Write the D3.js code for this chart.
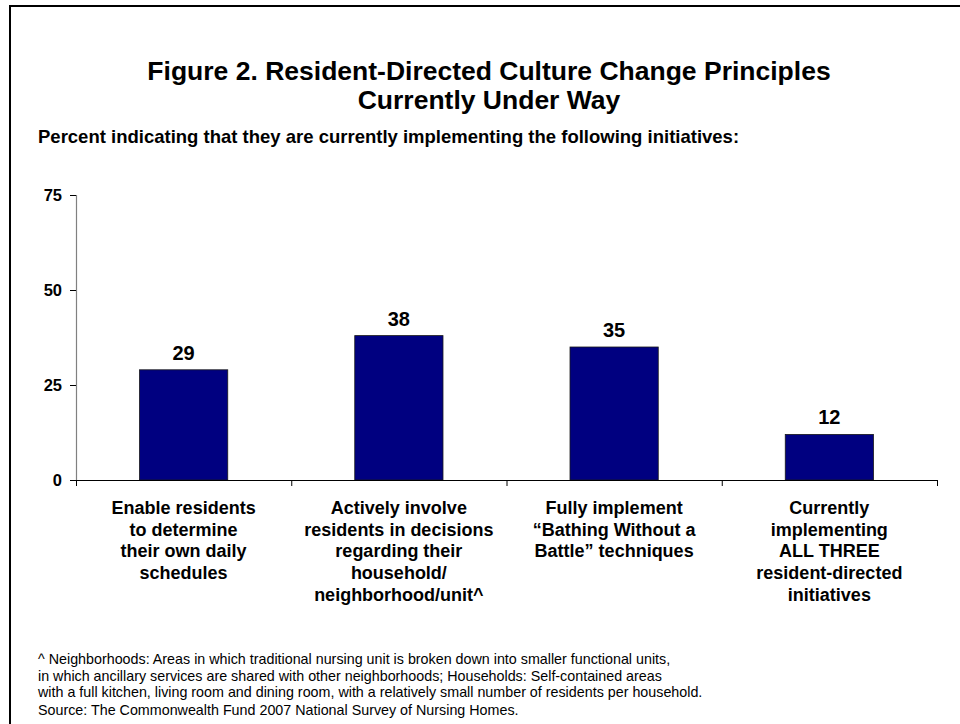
<!DOCTYPE html>
<html>
<head>
<meta charset="utf-8">
<script src="https://cdn.jsdelivr.net/npm/d3@7"></script>
<style>
  html, body { margin: 0; padding: 0; background: #fff; }
  svg { display: block; font-family: Arial, "Liberation Sans", Helvetica, sans-serif; }
</style>
</head>
<body>
<svg id="chart" width="960" height="724"></svg>
<script>
// Survey results: share of nursing homes implementing each initiative
const categories = [
  ["Enable residents", "to determine", "their own daily", "schedules"],
  ["Actively involve", "residents in decisions", "regarding their", "household/", "neighborhood/unit^"],
  ["Fully implement", "\u201cBathing Without a", "Battle\u201d techniques"],
  ["Currently", "implementing", "ALL THREE", "resident-directed", "initiatives"]
];
const values = [29, 38, 35, 12];
const yTicks = [0, 25, 50, 75];
const titleLines = ["Figure 2. Resident-Directed Culture Change Principles", "Currently Under Way"];
const subtitle = "Percent indicating that they are currently implementing the following initiatives:";
const footnotes = [
  "^ Neighborhoods: Areas in which traditional nursing unit is broken down into smaller functional units,",
  "in which ancillary services are shared with other neighborhoods; Households: Self-contained areas",
  "with a full kitchen, living room and dining room, with a relatively small number of residents per household."
];
const source = "Source: The Commonwealth Fund 2007 National Survey of Nursing Homes.";

const svg = d3.select("#chart");

// Frame around the figure
svg.append("path")
  .attr("d", "M10,724 V6 H960")
  .attr("fill", "none")
  .attr("stroke", "#000")
  .attr("stroke-width", 2);

// Title
svg.append("g").selectAll("text").data(titleLines).join("text")
  .attr("x", 489)
  .attr("y", (d, i) => 80 + i * 29)
  .attr("text-anchor", "middle")
  .attr("font-size", 26.5)
  .attr("font-weight", "bold")
  .text(d => d);

svg.append("text")
  .attr("x", 38).attr("y", 142.5)
  .attr("font-size", 18.5).attr("font-weight", "bold")
  .text(subtitle);

// Plot geometry
const x0 = 76, x1 = 937, yBase = 480, yTop = 195;
const idx = d3.range(values.length);
const x = d3.scaleBand().domain(idx).range([x0, x1]).paddingInner(0.59).paddingOuter(0.295);
const y = d3.scaleLinear().domain([0, 75]).range([yBase, yTop]);

// Bars
svg.append("g").selectAll("rect").data(values).join("rect")
  .attr("x", (d, i) => x(i))
  .attr("y", d => y(d))
  .attr("width", x.bandwidth())
  .attr("height", d => y(0) - y(d))
  .attr("fill", "#000080")
  .attr("stroke", "#1a1a1a")
  .attr("stroke-width", 0.8);

// Value labels
svg.append("g").selectAll("text").data(values).join("text")
  .attr("x", (d, i) => x(i) + x.bandwidth() / 2)
  .attr("y", d => y(d) - 10)
  .attr("text-anchor", "middle")
  .attr("font-size", 20)
  .attr("font-weight", "bold")
  .text(d => d);

// Y axis
const yAxis = d3.axisLeft(y).tickValues(yTicks).tickSize(6).tickPadding(8);
const gy = svg.append("g").attr("transform", `translate(${x0},0)`).call(yAxis);
gy.select(".domain").attr("stroke", "#808080").attr("stroke-width", 1.2);
gy.selectAll(".tick line").attr("stroke", "#000");
gy.selectAll(".tick text")
  .attr("font-size", 16.5).attr("font-weight", "bold")
  .attr("font-family", "Arial, 'Liberation Sans', sans-serif")
  .attr("fill", "#000");

// X axis baseline with ticks at category boundaries
const boundaries = idx.map(i => x(i) - x.step() * x.paddingInner() / 2).concat([x1]);
const xAxisScale = d3.scaleLinear().domain([x0, x1]).range([x0, x1]);
const gx = svg.append("g").attr("transform", `translate(0,${yBase})`)
  .call(d3.axisBottom(xAxisScale).tickValues(boundaries).tickSize(6).tickSizeOuter(0).tickFormat(""));
gx.select(".domain").attr("stroke", "#000").attr("stroke-width", 1.2);
gx.selectAll(".tick line").attr("stroke", "#000");

// Category labels
const catG = svg.append("g").selectAll("text").data(categories).join("text")
  .attr("text-anchor", "middle")
  .attr("font-size", 18)
  .attr("font-weight", "bold");
catG.each(function(lines, i) {
  d3.select(this).selectAll("tspan").data(lines).join("tspan")
    .attr("x", x(i) + x.bandwidth() / 2)
    .attr("y", (d, j) => 514 + j * 21.7)
    .text(d => d);
});

// Footnotes and source
svg.append("g").selectAll("text").data(footnotes).join("text")
  .attr("x", 38)
  .attr("y", (d, i) => 664 + i * 16.5)
  .attr("font-size", 14.3)
  .text(d => d);

svg.append("text")
  .attr("x", 38).attr("y", 715)
  .attr("font-size", 14.3)
  .text(source);
</script>
</body>
</html>
